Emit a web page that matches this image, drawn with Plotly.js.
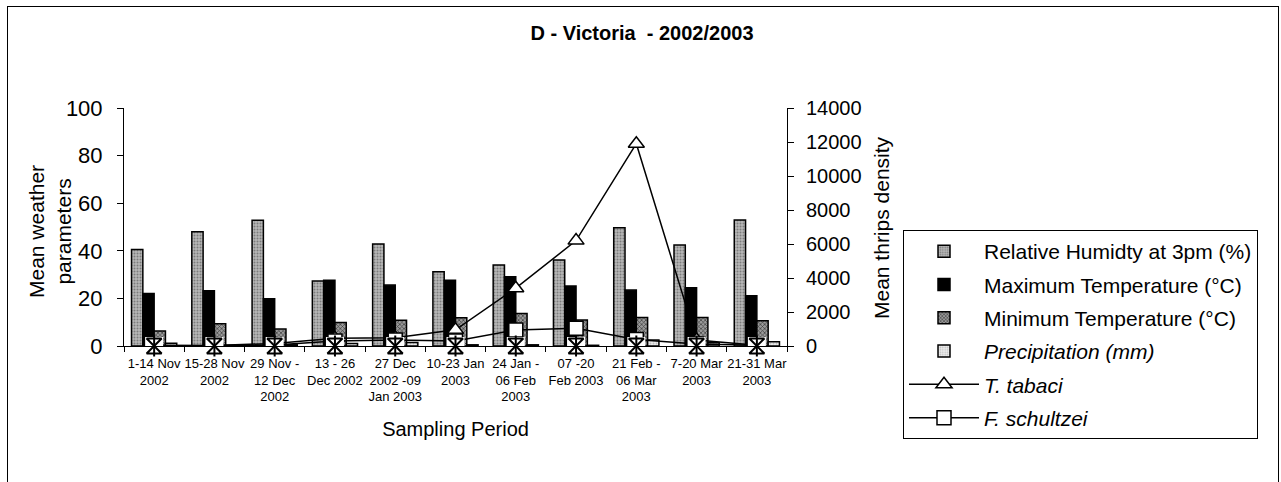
<!DOCTYPE html>
<html>
<head>
<meta charset="utf-8">
<script src="https://cdn.plot.ly/plotly-3.0.1.min.js"></script>
<style>
  html, body { margin:0; padding:0; background:#fff; overflow:hidden; }
  #wrap { position:relative; width:1281px; height:482px; }
  #chart { position:absolute; left:0; top:0; width:1281px; height:482px; }
  #frame { position:absolute; left:7px; top:6px; width:1272px; height:500px; border:1px solid #000; pointer-events:none; box-sizing:border-box; }
</style>
</head>
<body>
<div id="wrap"><div id="chart"></div><div id="frame"></div></div>
<script>
const periods = [
  "1-14 Nov<br>2002",
  "15-28 Nov<br>2002",
  "29 Nov -<br>12 Dec<br>2002",
  "13 - 26<br>Dec 2002",
  "27 Dec<br>2002 -09<br>Jan 2003",
  "10-23 Jan<br>2003",
  "24 Jan -<br>06 Feb<br>2003",
  "07 -20<br>Feb 2003",
  "21 Feb -<br>06 Mar<br>2003",
  "7-20 Mar<br>2003",
  "21-31 Mar<br>2003"
];
const relHumidity = [40.5, 48.0, 52.8, 27.3, 42.9, 31.2, 34.0, 36.1, 49.7, 42.4, 52.9];
const maxTemp     = [22.1, 23.2, 19.9, 27.6, 25.6, 27.6, 29.1, 25.2, 23.5, 24.5, 21.1];
const minTemp     = [6.3, 9.4, 7.1, 9.9, 10.8, 11.9, 13.7, 10.9, 12.0, 12.0, 10.6];
const precip      = [1.2, 0.3, 0.5, 1.0, 1.5, 0.5, 0.5, 0.3, 2.5, 1.4, 1.8];
const tTabaci     = [40, 30, 150, 450, 480, 950, 3400, 6200, 11900, 350, 40];
const fSchultzei  = [20, 10, 60, 300, 350, 300, 940, 1040, 380, 120, 50];
const otherThrips = [0, 0, 0, 0, 0, 0, 0, 0, 0, 0, 0];

const FONT = "Arial, 'Liberation Sans', sans-serif";
const outline = {color:'#000', width:1.5};

const traces = [
  {type:'bar', x:periods, y:relHumidity, name:'Relative Humidty at 3pm (%)', legendgroup:'a',
   marker:{color:'#b0b0b0', line:outline, pattern:{shape:'.', fgcolor:'#7c7c7c', bgcolor:'#b8b8b8', size:3, solidity:0.35}}},
  {type:'bar', x:periods, y:maxTemp, name:'Maximum Temperature (°C)', legendgroup:'b',
   marker:{color:'#000', line:outline}},
  {type:'bar', x:periods, y:minTemp, name:'Minimum Temperature (°C)', legendgroup:'c',
   marker:{color:'#6a6a6a', line:outline, pattern:{shape:'x', fgcolor:'#3a3a3a', bgcolor:'#9a9a9a', size:3, solidity:0.4}}},
  {type:'bar', x:periods, y:precip, name:'<i>Precipitation (mm)</i>', legendgroup:'d',
   marker:{color:'#e4e4e4', line:outline, pattern:{shape:'.', fgcolor:'#bdbdbd', bgcolor:'#ececec', size:3, solidity:0.3}}},
  {type:'scatter', mode:'lines+markers', x:periods, y:tTabaci, yaxis:'y2', name:'<i>T. tabaci</i>', legendgroup:'e',
   line:{color:'#000', width:1.5},
   marker:{symbol:'triangle-up', size:14, color:'#fff', line:{color:'#000', width:1.5}}},
  {type:'scatter', mode:'lines+markers', x:periods, y:fSchultzei, yaxis:'y2', name:'<i>F. schultzei</i>', legendgroup:'f',
   line:{color:'#000', width:1.5},
   marker:{symbol:'square', size:14, color:'#fff', line:{color:'#000', width:1.5}}},
  {type:'scatter', mode:'markers', x:periods, y:otherThrips, yaxis:'y2', showlegend:false, hoverinfo:'skip', cliponaxis:false,
   marker:{symbol:'square', size:18, color:'#fff', line:{width:0}}},
  {type:'scatter', mode:'markers', x:periods, y:otherThrips, yaxis:'y2', showlegend:false, hoverinfo:'skip', cliponaxis:false,
   marker:{symbol:'hourglass-open', size:15, color:'#000', line:{color:'#000', width:2}}},
  {type:'scatter', mode:'markers', x:periods, y:otherThrips, yaxis:'y2', showlegend:false, hoverinfo:'skip', cliponaxis:false,
   marker:{symbol:'line-ns-open', size:15, color:'#000', line:{color:'#000', width:2}}}
];

const PL = 124, PW = 663, PT = 108, PH = 238;
const px2x = v => (v - PL) / PW;
const px2y = v => (PT + PH - v) / PH;

const layout = {
  width:1281, height:482,
  paper_bgcolor:'#fff', plot_bgcolor:'#fff',
  margin:{l:124, r:494, t:108, b:136, pad:0},
  font:{family:FONT, color:'#000'},
  title:{text:'<b>D - Victoria  - 2002/2003</b>', x:642/1281, xanchor:'center', xref:'container',
         y:1-33/482, yanchor:'middle', yref:'container', font:{size:20, family:FONT, color:'#000'}},
  barmode:'group', bargap:0.25, bargroupgap:0,
  showlegend:true,
  legend:{x:px2x(903), xanchor:'left', y:px2y(230), yanchor:'top',
          bgcolor:'#fff', bordercolor:'#000', borderwidth:1,
          font:{size:21, family:FONT, color:'#000'}, tracegroupgap:3, itemwidth:70,
          traceorder:'grouped'},
  xaxis:{type:'category', range:[-0.5, 10.5], showline:true, linecolor:'#000', linewidth:1, ticks:'outside', ticklen:5,
         tickcolor:'#000', tickson:'boundaries', tickangle:0, showgrid:false, zeroline:false,
         ticklabelstandoff:5,
         tickfont:{size:13, family:FONT, color:'#000'},
         title:{text:'Sampling Period', font:{size:20, family:FONT, color:'#000'}, standoff:18}},
  yaxis:{range:[0,100], dtick:20, showline:true, linecolor:'#000', linewidth:1, ticks:'outside',
         ticklen:6, tickcolor:'#000', showgrid:false, zeroline:false, ticklabelstandoff:10,
         tickfont:{size:22, family:FONT, color:'#000'}},
  yaxis2:{range:[0,14000], dtick:2000, tickformat:'d', overlaying:'y', side:'right', showline:true, linecolor:'#000',
          linewidth:1, ticks:'outside', ticklen:6, tickcolor:'#000', showgrid:false, zeroline:false,
          ticklabelstandoff:8,
          tickfont:{size:20, family:FONT, color:'#000'}},
  annotations:[
    {text:'Mean weather<br>parameters', xref:'paper', yref:'paper', x:px2x(50), y:px2y(232),
     xanchor:'center', yanchor:'middle', textangle:-90, showarrow:false,
     font:{size:21, family:FONT, color:'#000'}},
    {text:'Mean thrips density', xref:'paper', yref:'paper', x:px2x(881), y:px2y(228),
     xanchor:'center', yanchor:'middle', textangle:-90, showarrow:false,
     font:{size:21, family:FONT, color:'#000'}}
  ]
};

Plotly.newPlot('chart', traces, layout, {displayModeBar:false, staticPlot:true});
</script>
</body>
</html>
